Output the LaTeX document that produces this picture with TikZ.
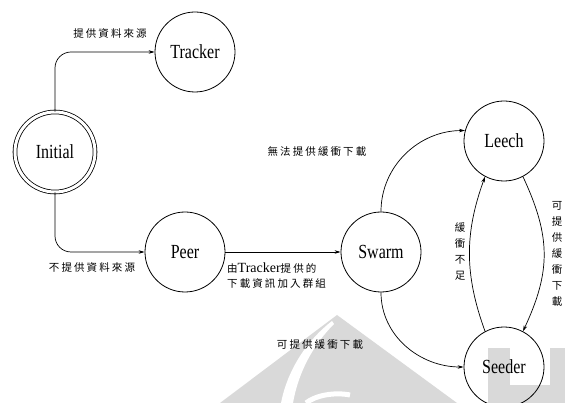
\documentclass[tikz,border=0pt]{standalone}
\usepackage{fontspec}
\setmainfont{Liberation Serif}[FakeStretch=0.8]
\newfontfamily\lat{Liberation Serif}
\newfontfamily\cjk{Noto Sans CJK TC}[LetterSpace=20]
\usetikzlibrary{arrows.meta}
\begin{document}
\begin{tikzpicture}[x=1pt,y=-1pt,
  state/.style={circle,draw,line width=0.8pt,minimum size=80pt,inner sep=0pt,font=\fontsize{20}{22}\selectfont},
  arr/.style={line width=0.7pt,-{Stealth[length=6pt,width=3.5pt]}},
  lbl/.style={font=\fontsize{10.5}{13}\selectfont\cjk,inner sep=0pt},
  vlbl/.style={font=\fontsize{10.5}{16}\selectfont\cjk,inner sep=0pt,align=center}]
\useasboundingbox (0,0) rectangle (565,403);
% watermark
\fill[black!15] (220,403) -- (337,315) -- (457,403) -- cycle;
\fill[white] (332,321) .. controls (305,342) and (287,372) .. (281,403) -- (293,403) .. controls (298,374) and (312,346) .. (334,324) -- cycle;
\begin{scope}
\clip (220,403) -- (337,315) -- (457,403) -- cycle;
\draw[white,line width=5pt] (306,403) .. controls (316,395) and (335,392) .. (350,395);
\end{scope}
\fill[black!15] (488,348) rectangle (565,403);
\fill[white] (510,348) rectangle (550,385);
% states
\node[state] (tr) at (195,52) {Tracker};
\node[state,double,double distance=3pt,minimum size=80pt] (in) at (55,152) {Initial};
\node[state] (pe) at (185,252) {Peer};
\node[state] (sw) at (381,252) {Swarm};
\node[state] (le) at (504,141) {Leech};
\node[state] (se) at (504,367) {Seeder};
% edges
\draw[arr,rounded corners=16pt] (in.north) |- (tr.west);
\draw[arr,rounded corners=16pt] (in.south) |- (pe.west);
\draw[arr] (pe.east) -- (sw.west);
\draw[arr] (sw.north) to[out=90,in=180] (le.165);
\draw[arr] (sw.south) to[out=-90,in=180] (se.west);
\draw[arr] (se.118) to[out=110,in=-110] (le.-118);
\draw[arr] (le.-62) to[out=-65,in=65,looseness=1.1] (se.62);
% labels
\node[lbl] (l1) at (110,33) {提供資料來源};
\node[lbl] (l2) at (92,267) {不提供資料來源};
\node[lbl,anchor=west,align=left,font=\fontsize{10.5}{15}\selectfont\cjk] (l3) at (227,276) {由{\lat\fontsize{14}{15}\selectfont Tracker}提供的\\下載資訊加入群組};
\node[lbl] (l4) at (317,151) {無法提供緩衝下載};
\node[lbl] (l5) at (320,345) {可提供緩衝下載};
\node[vlbl] (l6) at (460,252) {緩\\衝\\不\\足};
\node[vlbl] (l7) at (557,254) {可\\提\\供\\緩\\衝\\下\\載};
\end{tikzpicture}
\end{document}
